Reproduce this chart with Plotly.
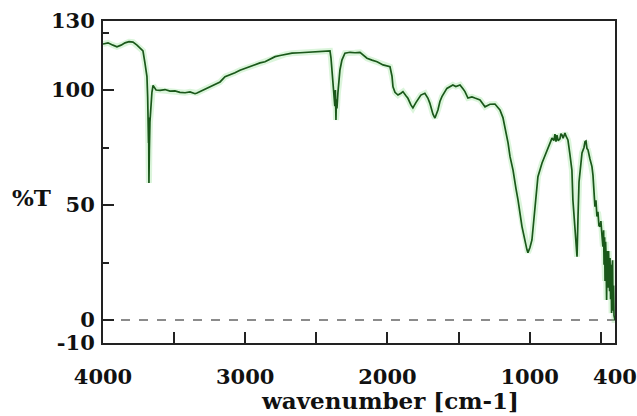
import plotly.graph_objects as go

# Wavenumber (cm-1) and transmittance (%T)
wavenumber = [
    4000, 3965, 3930, 3902, 3873, 3845, 3817, 3789, 3761, 3740, 3719, 3705, 3691,
    3686, 3684, 3683, 3682, 3681, 3680, 3679, 3678, 3677, 3674, 3670, 3663, 3656, 3648,
    3627, 3599, 3564, 3529, 3494, 3459, 3423, 3388, 3353, 3339, 3297, 3248, 3213,
    3177, 3142, 3107, 3072, 3037, 3002, 2966, 2931, 2896, 2861, 2825, 2790, 2755,
    2720, 2671, 2615, 2559, 2509, 2474, 2439, 2404, 2397, 2390, 2376, 2370, 2366,
    2364, 2362, 2359, 2355, 2348, 2334, 2320, 2299, 2263, 2228, 2193, 2165, 2144,
    2109, 2073, 2031, 1996, 1982, 1968, 1961, 1947, 1926, 1905, 1891, 1870, 1856,
    1835, 1821, 1800, 1786, 1765, 1737, 1716, 1702, 1680, 1666, 1645, 1631, 1617,
    1582, 1561, 1540, 1519, 1490, 1469, 1455, 1434, 1406, 1385, 1349, 1314, 1279,
    1244, 1209, 1188, 1174, 1152, 1138, 1117, 1096, 1082, 1054, 1033, 1019, 1012,
    998, 984, 963, 942, 913, 878, 843, 830, 822, 815, 808, 800, 787, 780, 773,
    765, 752, 745, 731, 717, 703, 696, 682, 667, 660, 653, 632, 618, 611, 604,
    597, 590, 576, 562, 555, 548, 541, 534, 527, 520, 513, 506, 499, 492, 485, 480,
    477, 473, 470, 466, 463, 459, 456, 452, 449, 445, 442, 438, 435, 431, 428,
    424, 421, 417, 414, 410, 407, 403, 400,
]
transmittance = [
    120.0, 120.5, 119.5, 118.8, 119.5, 120.5, 121.0, 120.8, 119.5, 118.0, 117.0,
    111.7, 105.8, 97.0, 83.0, 93.0, 80.0, 91.0, 77.0, 88.0, 70.0, 59.6, 74.0, 86.0,
    94.0, 99.0, 102.0, 100.0, 99.8, 100.2, 99.5, 99.6, 99.0, 98.8, 99.2, 98.4,
    98.7, 100.0, 101.4, 102.3, 103.5, 105.8, 106.5, 107.5, 108.6, 109.4, 110.3,
    110.9, 111.8, 112.3, 113.5, 114.5, 115.0, 115.5, 116.0, 116.2, 116.4, 116.8,
    116.6, 117.0, 117.0, 114.0, 107.4, 98.0, 93.0, 100.0, 91.0, 87.0, 96.0, 92.0,
    99.0, 108.7, 113.0, 116.0, 116.4, 116.2, 116.4, 115.0, 113.8, 113.0, 112.3,
    110.9, 110.3, 110.1, 106.0, 101.4, 99.0, 97.8, 98.6, 99.3, 97.5, 96.4, 93.5,
    92.2, 94.5, 95.7, 97.8, 98.6, 96.5, 94.3, 89.5, 87.8, 91.3, 95.0, 97.1,
    100.7, 101.5, 102.2, 101.5, 102.2, 100.5, 99.3, 96.5, 97.0, 96.5, 95.7, 92.7,
    93.8, 93.9, 91.3, 88.0, 84.0, 77.0, 71.0, 65.2, 57.0, 52.2, 40.6, 33.5, 30.5,
    29.3, 31.5, 34.8, 47.8, 62.3, 68.3, 73.9, 79.1, 78.0, 80.8, 77.5, 80.4, 78.0,
    78.8, 81.0, 80.5, 79.0, 81.3, 80.0, 78.3, 72.0, 65.2, 52.2, 38.0, 27.5, 45.0,
    60.0, 72.6, 75.0, 77.5, 77.8, 74.5, 74.0, 70.0, 66.7, 63.0, 58.0, 49.3, 52.0,
    45.0, 47.0, 41.0, 40.6, 43.0, 37.0, 31.9, 39.0, 24.0, 36.0, 17.0, 34.0, 28.0,
    8.7, 30.0, 26.0, 14.0, 30.0, 20.0, 12.5, 27.0, 9.0, 24.0, 3.0, 22.0, 26.0,
    4.0, 15.0, 2.0, 0.0, 0.0,
]

x_tick_vals = [4000, 3500, 3000, 2500, 2000, 1500, 1000, 500, 400]
x_tick_text = ["4000", "", "3000", "", "2000", "", "1000", "", "400"]
y_tick_vals = [130, 100, 50, 0, -10]
y_tick_text = ["130", "100", "50", "0", "-10"]
y_minor_vals = [125, 75, 25]

LINE = "#1a581a"
FONT = "DejaVu Serif"

fig = go.Figure()
# soft halo around the trace (as in the reference)
fig.add_trace(go.Scatter(x=wavenumber, y=transmittance, mode="lines",
                         line=dict(color="rgba(110,215,110,0.25)", width=6),
                         hoverinfo="skip", showlegend=False))
fig.add_trace(go.Scatter(x=wavenumber, y=transmittance, mode="lines",
                         line=dict(color=LINE, width=1.7), showlegend=False))

fig.add_shape(type="line", xref="paper", yref="y", x0=0, x1=1, y0=0, y1=0,
              line=dict(color="#666666", width=1.3, dash="dash"), layer="below")

fig.update_layout(
    width=637, height=416,
    margin=dict(l=103, r=22, t=21, b=73, autoexpand=False),
    paper_bgcolor="white", plot_bgcolor="white",
    font=dict(family=FONT, size=21, color="#111111"),
    xaxis=dict(
        range=[4000, 400], autorange=False, automargin=False,
        tickmode="array", tickvals=x_tick_vals, ticktext=x_tick_text,
        ticks="inside", ticklen=11, tickwidth=2, tickcolor="#222222",
        ticklabelstandoff=14,
        showline=True, linecolor="#222222", linewidth=2, mirror=True,
        showgrid=False, zeroline=False,
        tickfont=dict(family=FONT, size=21, weight="bold"),
    ),
    yaxis=dict(
        range=[-10, 130], autorange=False, automargin=False,
        tickmode="array", tickvals=y_tick_vals, ticktext=y_tick_text,
        ticks="inside", ticklen=11, tickwidth=2, tickcolor="#222222",
        ticklabelstandoff=2,
        minor=dict(tickmode="array", tickvals=y_minor_vals, ticks="inside",
                   ticklen=6, tickwidth=2, tickcolor="#222222", showgrid=False),
        showline=True, linecolor="#222222", linewidth=2, mirror=True,
        showgrid=False, zeroline=False,
        tickfont=dict(family=FONT, size=21, weight="bold"),
    ),
    annotations=[
        dict(text="wavenumber [cm-1]", xref="paper", yref="paper",
             x=0.5605, y=-0.178, xanchor="center", yanchor="middle",
             showarrow=False, font=dict(family=FONT, size=23, weight="bold")),
        dict(text="%T", xref="paper", yref="paper",
             x=-0.1387, y=0.453, xanchor="center", yanchor="middle",
             showarrow=False, font=dict(family=FONT, size=23, weight="bold")),
    ],
)

fig.write_html("out.html")
